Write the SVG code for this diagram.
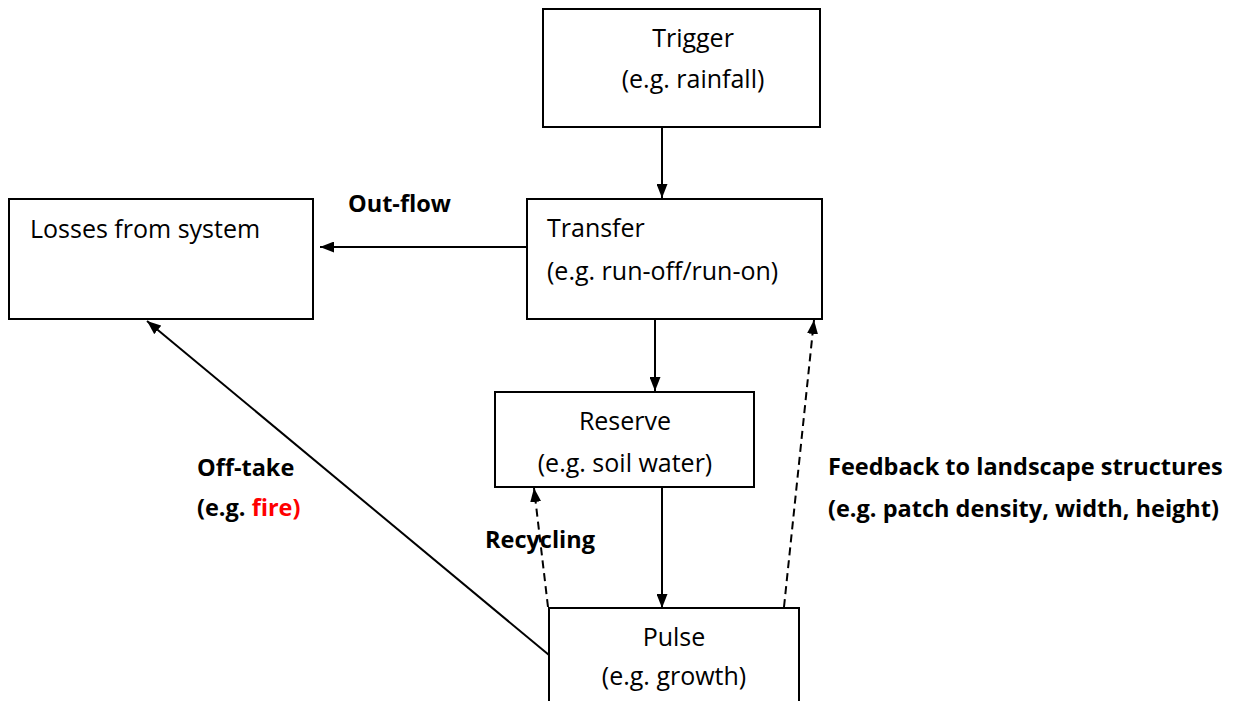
<svg xmlns="http://www.w3.org/2000/svg" width="1246" height="701" viewBox="0 0 1246 701">
<style>
.box{fill:#fff;stroke:#000;stroke-width:2}
.t{font-family:"Open Sans","Liberation Sans",sans-serif;font-size:25px;fill:#000}
.b{font-family:"Open Sans","Liberation Sans",sans-serif;font-size:23.5px;font-weight:bold;fill:#000}
.c{text-anchor:middle}
.ln{stroke:#000;stroke-width:2;fill:none}
.d{stroke-dasharray:8 5}
</style>
<defs>
<marker id="ah" viewBox="0 0 14 11" refX="14" refY="5.5" markerWidth="14" markerHeight="11" markerUnits="userSpaceOnUse" orient="auto">
<path d="M0,0 L14,5.5 L0,11 Z" fill="#000"/>
</marker>
</defs>
<g id="connectors">
<line class="ln" x1="662" y1="127" x2="662" y2="198" marker-end="url(#ah)"/>
<line class="ln" x1="527" y1="247" x2="320" y2="247" marker-end="url(#ah)"/>
<line class="ln" x1="655" y1="319" x2="655" y2="391" marker-end="url(#ah)"/>
<line class="ln" x1="662" y1="487" x2="662" y2="608" marker-end="url(#ah)"/>
<line class="ln d" x1="548" y1="607" x2="534" y2="488" marker-end="url(#ah)"/>
<line class="ln d" x1="784" y1="607" x2="814" y2="320" marker-end="url(#ah)"/>
<line class="ln" x1="549" y1="655" x2="147" y2="321" marker-end="url(#ah)"/>
</g>
<g id="trigger">
<rect class="box" x="543" y="9" width="277" height="118"/>
<text class="t c" x="693" y="47">Trigger</text>
<text class="t c" x="693" y="88">(e.g. rainfall)</text>
</g>
<g id="transfer">
<rect class="box" x="527" y="199" width="295" height="120"/>
<text class="t" x="547" y="237">Transfer</text>
<text class="t" x="547" y="280">(e.g. run-off/run-on)</text>
</g>
<g id="losses">
<rect class="box" x="9" y="199" width="304" height="120"/>
<text class="t" x="30" y="238">Losses from system</text>
</g>
<g id="reserve">
<rect class="box" x="495" y="392" width="259" height="95"/>
<text class="t c" x="625" y="430">Reserve</text>
<text class="t c" x="625" y="472">(e.g. soil water)</text>
</g>
<g id="pulse">
<rect class="box" x="549" y="608" width="250" height="110"/>
<text class="t c" x="674" y="646">Pulse</text>
<text class="t c" x="674" y="685">(e.g. growth)</text>
</g>
<g id="labels">
<text class="b" x="348" y="212">Out-flow</text>
<text class="b" x="197" y="476">Off-take</text>
<text class="b" x="197" y="516">(e.g. <tspan fill="#ff0000">fire)</tspan></text>
<text class="b" x="485" y="548">Recycling</text>
<text class="b" x="828" y="475">Feedback to landscape structures</text>
<text class="b" x="828" y="517">(e.g. patch density, width, height)</text>
</g>
</svg>
